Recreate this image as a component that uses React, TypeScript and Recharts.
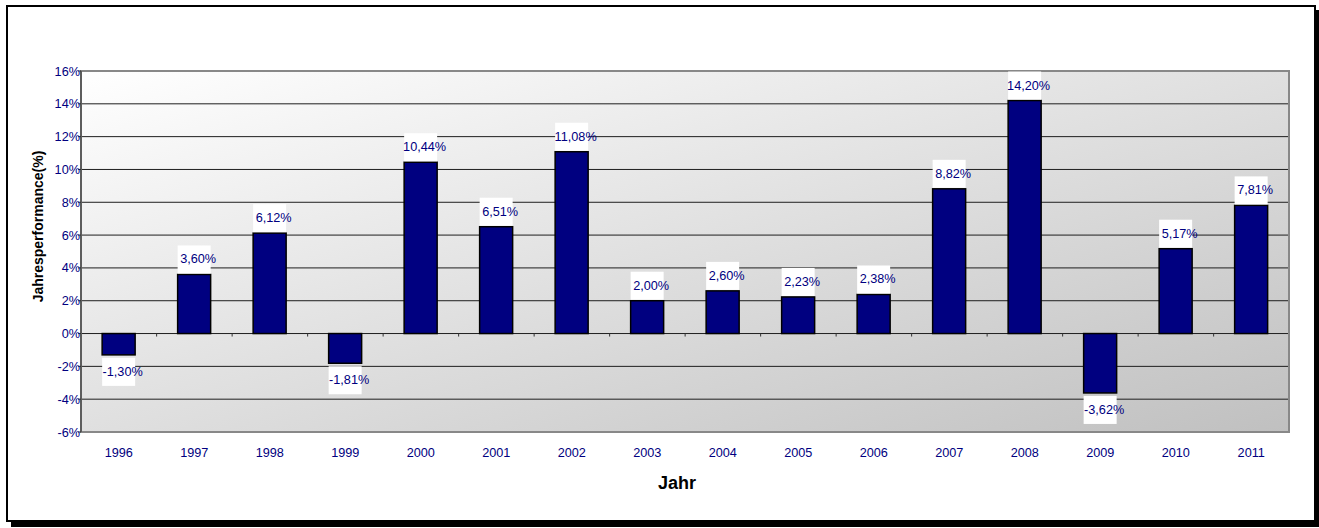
import React from "react";
import {
  ComposedChart,
  Bar,
  XAxis,
  YAxis,
  CartesianGrid,
  ReferenceArea,
  Label,
} from "recharts";

const years = [
  "1996", "1997", "1998", "1999", "2000", "2001", "2002", "2003",
  "2004", "2005", "2006", "2007", "2008", "2009", "2010", "2011",
];
const performance = [
  -1.3, 3.6, 6.12, -1.81, 10.44, 6.51, 11.08, 2.0,
  2.6, 2.23, 2.38, 8.82, 14.2, -3.62, 5.17, 7.81,
];
const yTicks = [-6, -4, -2, 0, 2, 4, 6, 8, 10, 12, 14, 16];

const data = years.map((year, i) => ({ year, value: performance[i] }));

const FONT = "'Liberation Sans', Arial, sans-serif";
const NAVY = "#000080";
const CAT_GAP = 0.28;

const fmt = (v: number) => v.toFixed(2).replace(".", ",") + "%";

const BarShape = (props: any) => {
  const { x, y, width, height, payload, index } = props;
  const v: number = payload.value;
  const top = Math.min(y, y + height);
  const bottom = Math.max(y, y + height);
  const zeroY = v >= 0 ? bottom : top;
  const cx = x + width / 2;
  const band = width / (1 - 2 * CAT_GAP);
  const boxH = 28;
  const boxY = v >= 0 ? top - 1 - boxH : bottom + 3;
  return (
    <g>
      {index > 0 && (
        <line
          x1={cx - band / 2}
          x2={cx - band / 2}
          y1={zeroY}
          y2={zeroY + 3}
          stroke="#333"
          strokeWidth={1}
        />
      )}
      <rect
        x={x}
        y={top}
        width={width}
        height={bottom - top}
        fill={NAVY}
        stroke="#000"
        strokeWidth={1.5}
      />
      <rect x={x} y={boxY} width={width} height={boxH} fill="#fff" />
      <text
        x={cx + 4}
        y={boxY + boxH / 2}
        textAnchor="middle"
        dominantBaseline="central"
        fontFamily={FONT}
        fontSize={12.7}
        fill={NAVY}
      >
        {fmt(v)}
      </text>
    </g>
  );
};

const XTitle = (props: any) => {
  const vb = props.viewBox || { x: 81, y: 432, width: 1208, height: 96 };
  return (
    <text
      x={vb.x + vb.width / 2 - 8}
      y={vb.y + 57}
      textAnchor="middle"
      fontFamily={FONT}
      fontWeight="bold"
      fontSize={18}
      fill="#000"
    >
      Jahr
    </text>
  );
};

const YTitle = (props: any) => {
  const vb = props.viewBox || { x: 0, y: 71, width: 81, height: 361 };
  const tx = vb.x + 38;
  const ty = vb.y + vb.height / 2 - 25;
  return (
    <text
      x={tx}
      y={ty}
      transform={`rotate(-90, ${tx}, ${ty})`}
      textAnchor="middle"
      dominantBaseline="central"
      fontFamily={FONT}
      fontWeight="bold"
      fontSize={14}
      fill="#000"
    >
      Jahresperformance(%)
    </text>
  );
};

export default function App() {
  return (
    <div
      style={{
        position: "absolute",
        left: 0,
        top: 0,
        width: 1319,
        height: 528,
        background: "#fff",
        overflow: "hidden",
      }}
    >
      <div
        style={{
          position: "absolute",
          left: 6,
          top: 5,
          width: 1310,
          height: 517,
          boxSizing: "border-box",
          border: "2px solid #000",
          boxShadow: "5px 5px 0 #000",
          background: "#fff",
        }}
      />
      <div style={{ position: "absolute", left: 0, top: 0 }}>
        <ComposedChart
          width={1319}
          height={528}
          data={data}
          margin={{ top: 71, right: 30, bottom: 0, left: 0 }}
          barCategoryGap={`${CAT_GAP * 100}%`}
        >
          <defs>
            <linearGradient id="plotBg" x1="0" y1="0" x2="1" y2="1">
              <stop offset="0%" stopColor="#ffffff" />
              <stop offset="100%" stopColor="#c0c0c0" />
            </linearGradient>
          </defs>
          <CartesianGrid
            vertical={false}
            stroke="#1e1e1e"
            strokeWidth={1}
            fill="url(#plotBg)"
            fillOpacity={1}
          />
          <ReferenceArea
            y1={-6}
            y2={16}
            fill="none"
            stroke="#888"
            strokeWidth={2}
            ifOverflow="visible"
          />
          <XAxis
            dataKey="year"
            height={96}
            axisLine={false}
            tickLine={false}
            tickSize={0}
            tickMargin={16}
            interval={0}
            tick={{ fill: NAVY, fontSize: 12.7, fontFamily: FONT }}
          >
            <Label content={<XTitle />} />
          </XAxis>
          <YAxis
            width={81}
            domain={[-6, 16]}
            ticks={yTicks}
            interval={0}
            tickFormatter={(v: number) => `${v}%`}
            axisLine={{ stroke: "#333" }}
            tickLine={{ stroke: "#333" }}
            tickSize={3}
            tickMargin={-2}
            tick={{ fill: NAVY, fontSize: 12.7, fontFamily: FONT }}
          >
            <Label content={<YTitle />} />
          </YAxis>
          <Bar
            dataKey="value"
            shape={<BarShape />}
            isAnimationActive={false}
          />
        </ComposedChart>
      </div>
    </div>
  );
}
